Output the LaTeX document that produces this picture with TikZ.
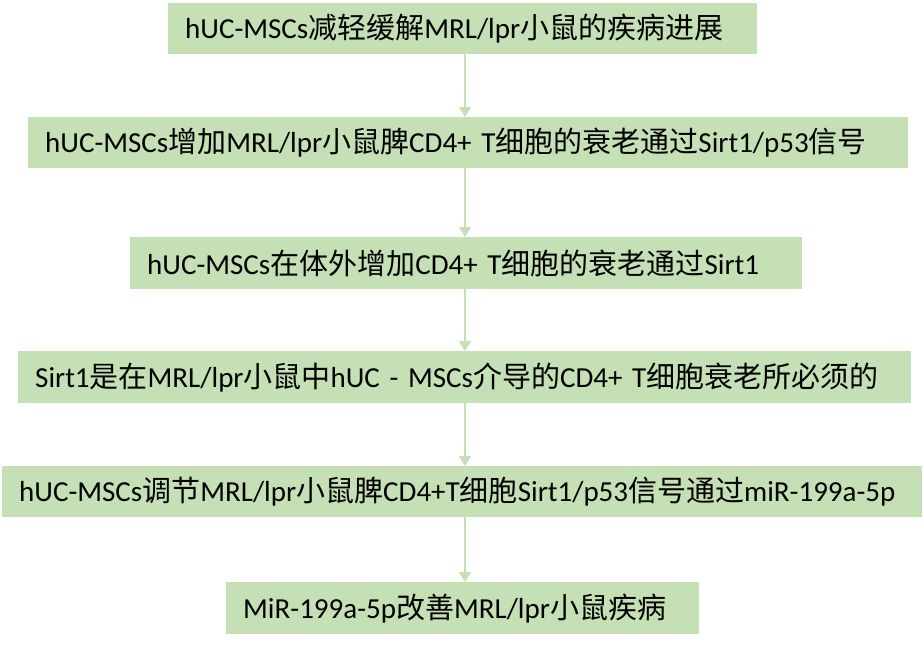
\documentclass[tikz,border=0pt]{standalone}
\usepackage{fontspec}
\setmainfont{Carlito}
\newfontfamily\cjk{Noto Sans CJK SC}
\newcommand{\zh}[1]{{\cjk #1}}
\usepackage{tikz}
\usetikzlibrary{arrows.meta}
\usetikzlibrary{positioning}
\definecolor{boxgreen}{HTML}{C5E0B4}
\tikzset{
    stepbox/.style={fill=boxgreen, anchor=north west, minimum height=51pt,
        inner xsep=17pt, inner ysep=0pt, align=left,
        font={\fontsize{29}{34}\selectfont}},
    flow/.style={draw=boxgreen, line width=2.5pt,
        -{Triangle[width=12pt,length=10pt]}},
}
\begin{document}
\begin{tikzpicture}[x=1pt,y=1pt]
\useasboundingbox (0,0) rectangle (923,-645);
\coordinate (axis) at (465,0);
\node[stepbox, text width=555pt] (n1) at (168,-3) {hUC-MSCs\zh{减轻缓解}MRL/lpr\zh{小鼠的疾病进展}};
\node[stepbox, text width=846pt] (n2) at (28,-117) {hUC-MSCs\zh{增加}MRL/lpr\zh{小鼠脾}CD4+ T\zh{细胞的衰老通过}Sirt1/p53\zh{信号}};
\node[stepbox, text width=638pt, minimum height=52pt] (n3) at (130,-237) {hUC-MSCs\zh{在体外增加}CD4+ T\zh{细胞的衰老通过}Sirt1};
\node[stepbox, text width=859pt, minimum height=52pt] (n4) at (18,-351) {Sirt1\zh{是在}MRL/lpr\zh{小鼠中}hUC - MSCs\zh{介导的}CD4+ T\zh{细胞衰老所必须的}};
\node[stepbox, text width=886pt] (n5) at (2,-466) {hUC-MSCs\zh{调节}MRL/lpr\zh{小鼠脾}CD4+T\zh{细胞}Sirt1/p53\zh{信号通过}miR-199a-5p};
\node[stepbox, text width=439pt, minimum height=52pt] (n6) at (226,-582) {MiR-199a-5p\zh{改善}MRL/lpr\zh{小鼠疾病}};
% arrows down the middle
\path (n1.south -| axis) edge[flow] (n2.north -| axis);
\path (n2.south -| axis) edge[flow] (n3.north -| axis);
\path (n3.south -| axis) edge[flow] (n4.north -| axis);
\path (n4.south -| axis) edge[flow] (n5.north -| axis);
\path (n5.south -| axis) edge[flow] (n6.north -| axis);
\end{tikzpicture}
\end{document}
